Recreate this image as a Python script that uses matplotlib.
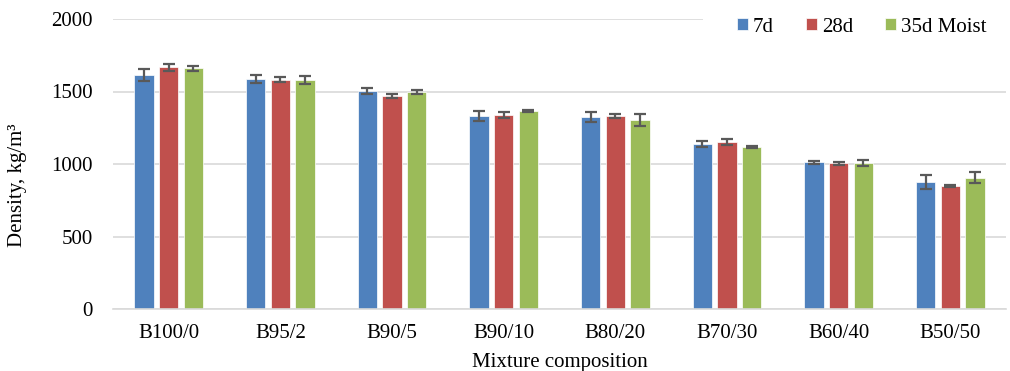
import matplotlib
matplotlib.use("Agg")
import matplotlib.pyplot as plt
import numpy as np

# Mixture compositions and measured densities (kg/m3) with standard deviations
categories = ["B100/0", "B95/2", "B90/5", "B90/10", "B80/20", "B70/30", "B60/40", "B50/50"]
series_names = ["7d", "28d", "35d Moist"]
density_7d = [1612, 1586, 1503, 1331, 1324, 1136, 1012, 876]
err_7d = [41, 27, 18, 37, 36, 22, 12, 51]
density_28d = [1667, 1581, 1471, 1338, 1331, 1150, 1005, 850]
err_28d = [25, 16, 15, 21, 17, 21, 12, 7]
density_35d = [1660, 1577, 1499, 1366, 1303, 1115, 1009, 906]
err_35d = [16, 28, 13, 9, 40, 8, 21, 38]
yticks = [0, 500, 1000, 1500, 2000]

colors = ["#4F81BD", "#C0504D", "#9BBB59"]
font = "Liberation Serif"
fs = 15

plt.rcParams["font.family"] = [font, "DejaVu Serif"]

W, H = 1010, 371
fig = plt.figure(figsize=(W / 100, H / 100), dpi=100)
ax = fig.add_axes([113 / W, 1 - 309 / H, (1006 - 113) / W, (309 - 19) / H])

x = np.arange(len(categories))
bar_w = 0.173
step = 0.221
all_vals = [density_7d, density_28d, density_35d]
all_errs = [err_7d, err_28d, err_35d]
for i, (vals, errs, c, name) in enumerate(zip(all_vals, all_errs, colors, series_names)):
    ax.bar(x + (i - 1) * step, vals, width=bar_w, color=c, edgecolor="white",
           linewidth=0.5, label=name, zorder=2,
           yerr=errs, error_kw=dict(ecolor="#595959", elinewidth=1.6,
                                    capsize=4.6, capthick=1.6, zorder=3))

ax.set_xlim(-0.5, len(categories) - 0.5)
ax.set_ylim(0, 2000)
ax.set_yticks(yticks)
ax.set_yticklabels([str(t) for t in yticks], fontsize=fs)
ax.set_xticks(x)
ax.set_xticklabels(categories, fontsize=fs)
ax.tick_params(axis="y", length=0, pad=14.5)
ax.tick_params(axis="x", length=0, pad=11)

ax.grid(axis="y", color="#D9D9D9", linewidth=1.2, zorder=0)
ax.set_axisbelow(True)
for s in ["top", "right", "left"]:
    ax.spines[s].set_visible(False)
ax.spines["bottom"].set_color("#D9D9D9")
ax.spines["bottom"].set_linewidth(1.2)

ax.set_xlabel("Mixture composition", fontsize=fs, labelpad=7)
fig.text(18 / W, 1 - 185 / H, "Density, kg/m³", rotation=90,
         ha="center", va="center", fontsize=fs)

leg = ax.legend(loc="center left", bbox_to_anchor=(703 / W, 1 - 27 / H),
                bbox_transform=fig.transFigure, ncol=3, fontsize=fs,
                frameon=True, fancybox=False, borderpad=1.65,
                handlelength=0.5, handleheight=0.5, handletextpad=0.25,
                columnspacing=1.55, borderaxespad=0)
leg.get_frame().set_facecolor("white")
leg.get_frame().set_edgecolor("none")
leg.get_frame().set_alpha(1)

fig.savefig("out.png", dpi=100)
